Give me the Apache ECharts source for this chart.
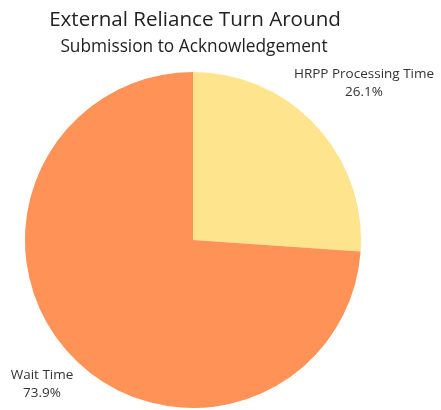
<!DOCTYPE html>
<html><head><meta charset="utf-8">
<script src="https://cdn.jsdelivr.net/npm/echarts@6/dist/echarts.min.js"></script>
<style>html,body{margin:0;padding:0;background:#fff}#c{width:441px;height:410px}</style>
</head><body><div id="c"></div>
<script>
const categories = ["HRPP Processing Time", "Wait Time"];
const values = [26.1, 73.9];
const colors = ["#FFE48E", "#FF9357"];
const labelPos = [[364, 83], [42, 384]];

const chart = echarts.init(document.getElementById('c'));
chart.setOption({
  animation: false,
  title: [
    {text: 'External Reliance Turn Around', left: 190, top: 5, textAlign: 'center',
     textStyle: {fontFamily: 'Open Sans', fontWeight: 'normal', fontSize: 20.6, color: '#222'}},
    {text: 'Submission to Acknowledgement', left: 189, top: 34, textAlign: 'center',
     textStyle: {fontFamily: 'Open Sans', fontWeight: 'normal', fontSize: 17.3, color: '#222'}}
  ],
  series: [{
    type: 'pie',
    center: [193, 240],
    radius: [0, 168],
    startAngle: 90,
    clockwise: true,
    data: categories.map((c, i) => ({name: c, value: values[i], itemStyle: {color: colors[i]}})),
    label: {
      show: true,
      formatter: p => p.name + '\n' + p.value.toFixed(1) + '%',
      fontFamily: 'Open Sans', fontSize: 13.5, color: '#333', lineHeight: 18, align: 'center',
      overflow: 'none', width: 200
    },
    labelLine: {show: false},
    labelLayout: p => ({x: labelPos[p.dataIndex][0], y: labelPos[p.dataIndex][1], align: 'center', verticalAlign: 'middle'}),
    emphasis: {disabled: true}
  }]
});
</script></body></html>
